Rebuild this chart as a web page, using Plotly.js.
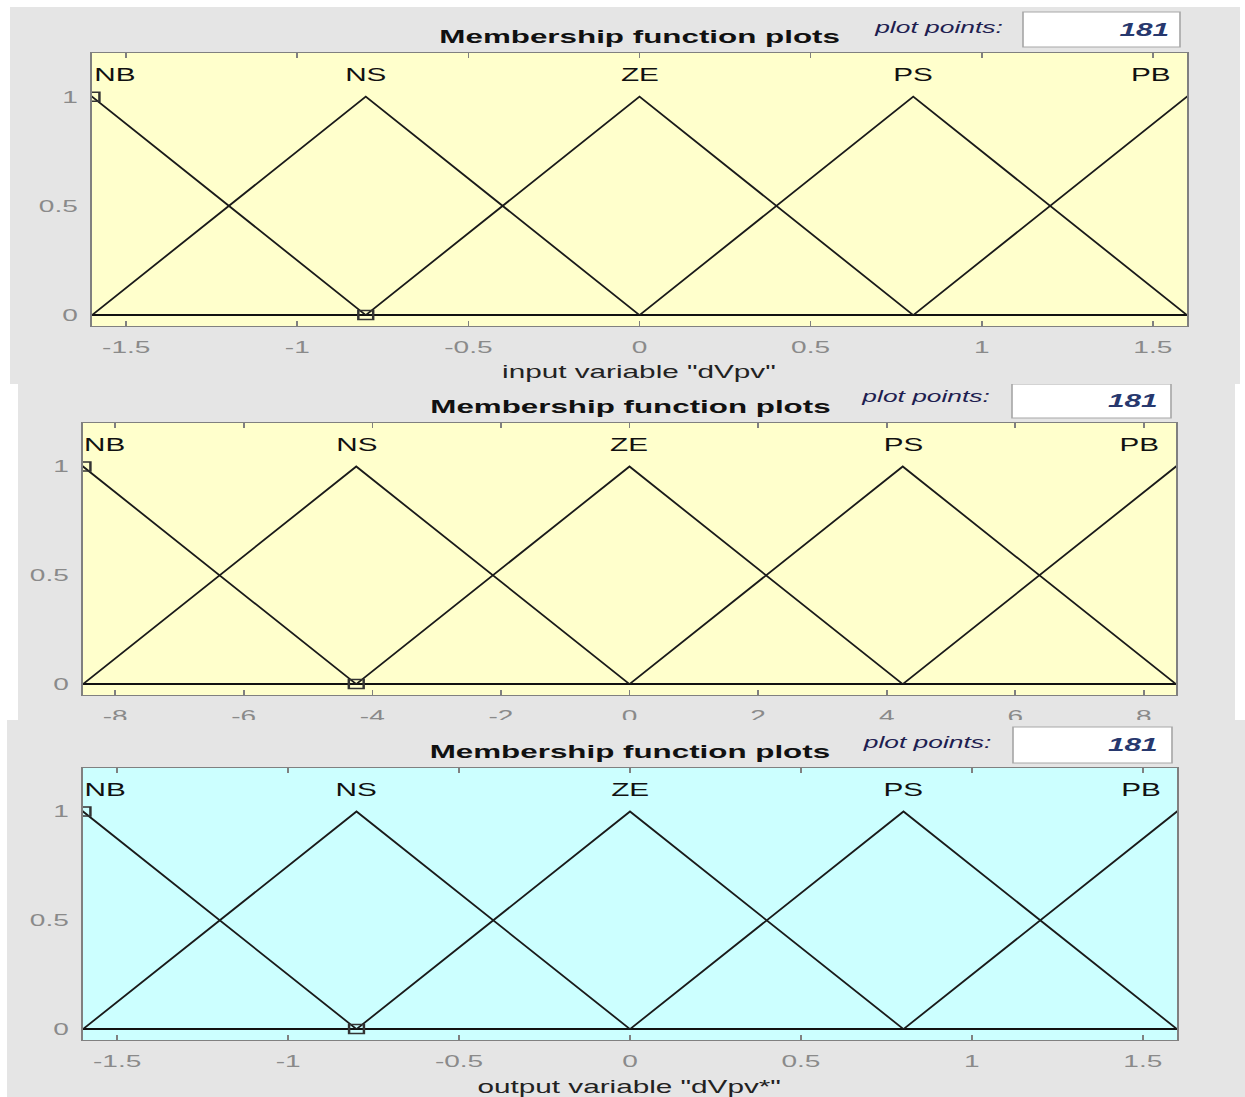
<!DOCTYPE html>
<html>
<head>
<meta charset="utf-8">
<script src="https://cdn.plot.ly/plotly-3.0.1.min.js"></script>
<style>
  html, body { margin: 0; padding: 0; background: #ffffff; width: 1245px; height: 1097px; overflow: hidden; }
  .panel { position: absolute; overflow: hidden; background: #e5e5e5; }
  .chart { position: absolute; left: 0; top: 0; transform-origin: 0 0; }
</style>
</head>
<body>
<div class="panel" id="panel1" style="left:10px;top:7px;width:1230px;height:377px;"><div class="chart" id="chart1"></div></div>
<div class="panel" id="panel2" style="left:18px;top:384px;width:1217px;height:336px;"><div class="chart" id="chart2"></div></div>
<div class="panel" id="panel3" style="left:7px;top:720px;width:1238px;height:377px;"><div class="chart" id="chart3"></div></div>
<script>
// ---------------- data ----------------
const mfNames = ['NB', 'NS', 'ZE', 'PS', 'PB'];

const input1Range = [-1.6, 1.6];
const input1Params = [[-2.4, -1.6, -0.8], [-1.6, -0.8, 0], [-0.8, 0, 0.8], [0, 0.8, 1.6], [0.8, 1.6, 2.4]];
const input1TickVals = [-1.5, -1, -0.5, 0, 0.5, 1, 1.5];
const input1TickText = ['-1.5', '-1', '-0.5', '0', '0.5', '1', '1.5'];

const input2Range = [-8.5, 8.5];
const input2Params = [[-12.75, -8.5, -4.25], [-8.5, -4.25, 0], [-4.25, 0, 4.25], [0, 4.25, 8.5], [4.25, 8.5, 12.75]];
const input2TickVals = [-8, -6, -4, -2, 0, 2, 4, 6, 8];
const input2TickText = ['-8', '-6', '-4', '-2', '0', '2', '4', '6', '8'];

const outputRange = [-1.6, 1.6];
const outputParams = [[-2.4, -1.6, -0.8], [-1.6, -0.8, 0], [-0.8, 0, 0.8], [0, 0.8, 1.6], [0.8, 1.6, 2.4]];
const outputTickVals = [-1.5, -1, -0.5, 0, 0.5, 1, 1.5];
const outputTickText = ['-1.5', '-1', '-0.5', '0', '0.5', '1', '1.5'];

const mfShape = [0, 1, 0];
const yTickVals = [0, 0.5, 1];
const yTickText = ['0', '0.5', '1'];
const yRange = [-0.05, 1.2];

// selected MF handles (NB peak and end)
const input1SelX = [-1.6, -0.8];
const input2SelX = [-8.5, -4.25];
const outputSelX = [-1.6, -0.8];
const selY = [1, 0];

const plotPoints = ['181', '181', '181'];
const panelTitle = 'Membership function plots';
const plotPointsLabel = 'plot points:';
const variableTitles = ['input variable "dVpv"', '', 'output variable "dVpv*"'];

// ---------------- drawing ----------------
const STRETCH = 1.65;
const FONT = 'Liberation Sans, Arial, sans-serif';

function makePanel(chartId, c) {
  const Wc = Math.round(c.divW / STRETCH);
  const s = c.divW / Wc;
  const el = document.getElementById(chartId);
  el.style.transform = 'scaleX(' + s + ')';
  const Hc = c.chartH;
  const px = x => x / c.divW;
  const py = y => 1 - y / Hc;

  const traces = [];
  // baseline
  traces.push({
    x: c.range, y: [0, 0], mode: 'lines', type: 'scatter',
    line: { color: '#111111', width: 2 }, hoverinfo: 'skip'
  });
  c.params.forEach(p => {
    traces.push({
      x: p, y: mfShape, mode: 'lines', type: 'scatter',
      line: { color: '#1a1a1a', width: 1.4 }, hoverinfo: 'skip'
    });
  });
  traces.push({
    x: c.selX, y: selY, mode: 'markers', type: 'scatter',
    marker: { symbol: 'square-open', size: 9, color: '#333333', line: { width: 1.5, color: '#333333' } },
    hoverinfo: 'skip'
  });

  const annotations = [];
  const labelY = 1.1;
  c.params.forEach((p, i) => {
    const a = {
      x: p[1], y: labelY, xref: 'x', yref: 'y', text: mfNames[i], showarrow: false,
      xanchor: 'center', yanchor: 'middle',
      font: { family: FONT, size: 18, color: '#111111' }
    };
    if (i === 0) { a.xanchor = 'left'; a.xshift = -1; }
    if (i === c.params.length - 1) { a.xanchor = 'right'; a.xshift = -8; }
    annotations.push(a);
  });
  annotations.push({
    x: px(c.titleCx), y: py(c.titleCy), xref: 'paper', yref: 'paper', text: '<b>' + panelTitle + '</b>',
    showarrow: false, xanchor: 'center', yanchor: 'middle',
    font: { family: FONT, size: 19, color: '#111111' }
  });
  annotations.push({
    x: px(c.ppL), y: py(c.ppCy), xref: 'paper', yref: 'paper', text: '<i>' + plotPointsLabel + '</i>',
    showarrow: false, xanchor: 'left', yanchor: 'middle',
    font: { family: FONT, size: 16, color: '#1e2050' }
  });
  annotations.push({
    x: px(c.numR), y: py(c.numCy), xref: 'paper', yref: 'paper', text: '<b><i>' + c.points + '</i></b>',
    showarrow: false, xanchor: 'right', yanchor: 'middle',
    font: { family: FONT, size: 18, color: '#27386e' }
  });
  if (c.varTitle) {
    annotations.push({
      x: px((c.axL + c.axR) / 2), y: py(c.xtCy), xref: 'paper', yref: 'paper', text: c.varTitle,
      showarrow: false, xanchor: 'center', yanchor: 'middle',
      font: { family: FONT, size: 18, color: '#222222' }
    });
  }

  const shapes = [{
    type: 'rect', xref: 'paper', yref: 'paper',
    x0: px(c.boxX0), x1: px(c.boxX1), y0: py(c.boxY1), y1: py(c.boxY0),
    fillcolor: '#ffffff', line: { color: '#a8a8a8', width: 1 }, layer: 'below'
  }];

  const layout = {
    width: Wc, height: Hc,
    margin: { l: 0, r: 0, t: 0, b: 0, pad: 0 },
    paper_bgcolor: '#e5e5e5', plot_bgcolor: c.bg,
    showlegend: false,
    xaxis: {
      domain: [px(c.axL), px(c.axR)], range: c.range, autorange: false,
      tickmode: 'array', tickvals: c.tickVals, ticktext: c.tickText,
      ticks: 'inside', ticklen: 5, tickwidth: 1, tickcolor: '#808080',
      showline: true, linecolor: '#808080', linewidth: 1.2, mirror: 'ticks',
      showgrid: false, zeroline: false, automargin: false, ticklabelstandoff: 5,
      tickfont: { family: FONT, size: 17, color: '#8a8a8a' }
    },
    yaxis: {
      domain: [py(c.axB), py(c.axT)], range: yRange, autorange: false,
      tickmode: 'array', tickvals: yTickVals, ticktext: yTickText,
      ticks: '', showline: true, linecolor: '#808080', linewidth: 1.2, mirror: true,
      showgrid: false, zeroline: false, automargin: false, ticklabelstandoff: 4,
      tickfont: { family: FONT, size: 17, color: '#8a8a8a' }
    },
    annotations: annotations,
    shapes: shapes
  };
  Plotly.newPlot(chartId, traces, layout, { staticPlot: true, displayModeBar: false });
}

makePanel('chart1', {
  divW: 1230, chartH: 400, bg: '#ffffcc',
  axL: 82, axR: 1177, axT: 46, axB: 319,
  range: input1Range, params: input1Params, tickVals: input1TickVals, tickText: input1TickText,
  selX: input1SelX, points: plotPoints[0], varTitle: variableTitles[0],
  titleCx: 630, titleCy: 30, ppL: 860, ppCy: 20,
  boxX0: 1013, boxX1: 1170, boxY0: 5, boxY1: 40, numR: 1163, numCy: 23, xtCy: 365
});
makePanel('chart2', {
  divW: 1217, chartH: 380, bg: '#ffffcc',
  axL: 65, axR: 1158, axT: 39, axB: 311,
  range: input2Range, params: input2Params, tickVals: input2TickVals, tickText: input2TickText,
  selX: input2SelX, points: plotPoints[1], varTitle: variableTitles[1],
  titleCx: 612, titleCy: 23, ppL: 840, ppCy: 13,
  boxX0: 994, boxX1: 1153, boxY0: 0, boxY1: 34, numR: 1142, numCy: 17, xtCy: 356
});
makePanel('chart3', {
  divW: 1238, chartH: 377, bg: '#ccffff',
  axL: 76, axR: 1170, axT: 48, axB: 320,
  range: outputRange, params: outputParams, tickVals: outputTickVals, tickText: outputTickText,
  selX: outputSelX, points: plotPoints[2], varTitle: variableTitles[2],
  titleCx: 623, titleCy: 31, ppL: 851, ppCy: 23,
  boxX0: 1006, boxX1: 1165, boxY0: 7, boxY1: 43, numR: 1153, numCy: 25, xtCy: 367
});
</script>
</body>
</html>
